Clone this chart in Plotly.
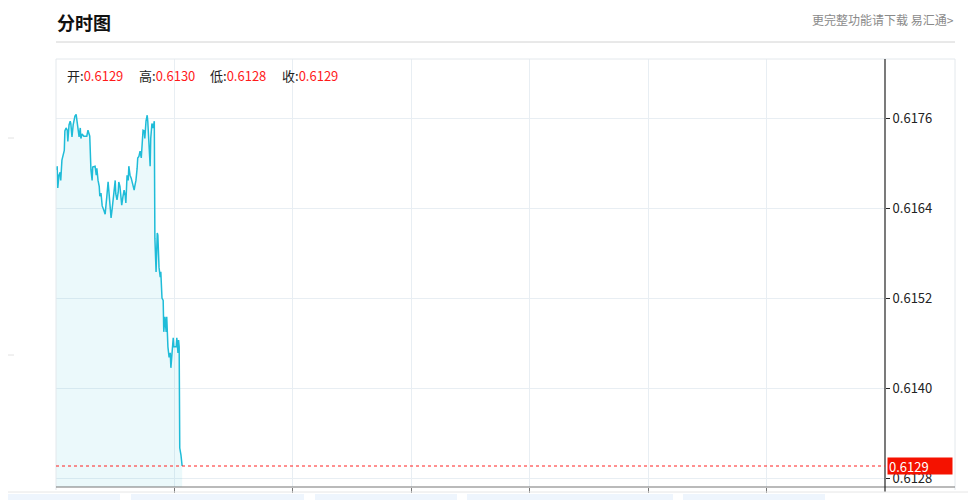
import plotly.graph_objects as go

# intraday minutes (x) and price (y)
minutes = [0, 2, 3, 5, 7, 8, 10, 12, 14, 15, 17, 19, 20, 22, 24, 25, 27, 29, 30, 32,
           34, 35, 37, 39, 41, 42, 44, 46, 47, 51, 52, 54, 56, 57, 59, 61, 62, 64, 66, 68,
           69, 71, 73, 74, 76, 78, 79, 81, 83, 84, 86, 88, 90, 91, 93, 95, 96, 98, 100, 101,
           103, 105, 106, 108, 110, 111, 113, 115, 117, 118, 120, 122, 123, 125, 127, 128, 130, 132, 133, 135,
           137, 138, 140, 142, 144, 145, 147, 149, 150, 152, 154, 155, 157, 159, 160, 162, 164, 166, 167, 169,
           171, 172, 174, 176, 177, 179, 181, 182, 184, 186, 187, 189, 191, 193, 194, 196, 198, 199, 201, 203,
           204, 206, 207, 208, 209, 211, 213]
prices = [0.61691, 0.61696, 0.61667, 0.61684, 0.61688, 0.61677, 0.61704, 0.61711, 0.61717, 0.61743,
          0.61747, 0.61744, 0.61729, 0.61751, 0.61756, 0.61753, 0.61735, 0.61751, 0.61756, 0.61763,
          0.61765, 0.61757, 0.61749, 0.61735, 0.61747, 0.61733, 0.61739, 0.61736, 0.61736, 0.61736,
          0.61736, 0.61744, 0.61736, 0.61736, 0.61691, 0.61677, 0.61695, 0.61696, 0.61696, 0.61684,
          0.61693, 0.61677, 0.61669, 0.61656, 0.61660, 0.61643, 0.61640, 0.61637, 0.61632, 0.61644,
          0.61657, 0.61675, 0.61653, 0.61635, 0.61627, 0.61640, 0.61647, 0.61663, 0.61677, 0.61659,
          0.61651, 0.61661, 0.61675, 0.61669, 0.61651, 0.61644, 0.61655, 0.61664, 0.61656, 0.61647,
          0.61684, 0.61677, 0.61696, 0.61684, 0.61680, 0.61677, 0.61667, 0.61664, 0.61669, 0.61677,
          0.61693, 0.61707, 0.61709, 0.61716, 0.61707, 0.61724, 0.61744, 0.61743, 0.61733, 0.61756,
          0.61764, 0.61756, 0.61724, 0.61696, 0.61733, 0.61753, 0.61747, 0.61756, 0.61600, 0.61555,
          0.61607, 0.61604, 0.61561, 0.61548, 0.61555, 0.61520, 0.61517, 0.61475, 0.61495, 0.61475,
          0.61495, 0.61455, 0.61441, 0.61447, 0.61427, 0.61455, 0.61467, 0.61455, 0.61455, 0.61455,
          0.61467, 0.61447, 0.61464, 0.61455, 0.61320, 0.61311, 0.61296]

y_ticks = [0.6128, 0.6140, 0.6152, 0.6164, 0.6176]
x_grid = [200, 400, 600, 800, 1000, 1200]

ohlc_names = ["开", "高", "低", "收"]
ohlc_values = ["0.6129", "0.6130", "0.6128", "0.6129"]
last_label = "0.6129"

FONT = "Noto Sans CJK SC, Noto Sans, sans-serif"

# page body margin shifts the figure by 8px; coordinates below are screen pixels
OFF = 8
W, H = 976, 500
L, R, T, B = 56, 885, 59, 487  # plot area on screen


def px(x):
    return (x - L) / (R - L)


def py(y):
    return (B - y) / (B - T)


fig = go.Figure()
fig.add_trace(go.Scatter(
    x=minutes, y=prices, mode="lines",
    line=dict(color="#1fbcd8", width=1.5),
    fill="tozeroy", fillcolor="rgba(30,188,216,0.09)",
    hoverinfo="skip", showlegend=False,
))

shapes = []
gray = "#e3e8ec"
# frame
shapes.append(dict(type="line", xref="paper", yref="paper", x0=px(56), x1=px(955), y0=py(59), y1=py(59),
                   line=dict(color=gray, width=1)))
shapes.append(dict(type="line", xref="paper", yref="paper", x0=px(56), x1=px(56), y0=py(59), y1=py(490),
                   line=dict(color=gray, width=1)))
shapes.append(dict(type="line", xref="paper", yref="paper", x0=px(955), x1=px(955), y0=py(59), y1=py(490),
                   line=dict(color=gray, width=1)))
# bottom axis line extended to frame
shapes.append(dict(type="line", xref="paper", yref="paper", x0=px(56), x1=px(955), y0=py(487), y1=py(487),
                   line=dict(color="#777777", width=1.2)))
# right axis line
shapes.append(dict(type="line", xref="paper", yref="paper", x0=1, x1=1, y0=py(59), y1=py(492),
                   line=dict(color="#222222", width=1.2)))
# last price dotted line
shapes.append(dict(type="line", xref="paper", yref="y", x0=0, x1=1, y0=prices[-1], y1=prices[-1],
                   line=dict(color="#ff2020", width=1, dash="dot")))
# header separator
shapes.append(dict(type="line", xref="paper", yref="paper", x0=px(56), x1=px(955), y0=py(42), y1=py(42),
                   line=dict(color="#d2d2d2", width=1)))
# page bits around the widget
shapes.append(dict(type="line", xref="paper", yref="paper", x0=px(0), x1=px(976), y0=py(492), y1=py(492),
                   line=dict(color="#e6e6e6", width=1)))
for yy in (138, 355):
    shapes.append(dict(type="line", xref="paper", yref="paper", x0=px(0), x1=px(14), y0=py(yy), y1=py(yy),
                       line=dict(color="#e2e2e2", width=1)))
for a, b in [(0, 120), (131, 304), (315, 457), (467, 673), (683, 825)]:
    shapes.append(dict(type="rect", xref="paper", yref="paper", x0=px(a), x1=px(b), y0=py(494), y1=py(502),
                       fillcolor="#eef5fd", line=dict(width=0), layer="below"))

annotations = [
    dict(text="<b>分时图</b>", xref="paper", yref="paper", x=px(55), y=py(22), xanchor="left", yanchor="middle",
         showarrow=False, font=dict(family=FONT, size=18, color="#111111")),
    dict(text="更完整功能请下载 易汇通>", xref="paper", yref="paper", x=px(956), y=py(20), xanchor="right",
         yanchor="middle", showarrow=False, font=dict(family=FONT, size=12, color="#8a8a8a")),
    dict(text=last_label, xref="paper", yref="y", x=px(887), y=prices[-1], xanchor="left", yanchor="middle",
         showarrow=False, font=dict(family=FONT, size=13, color="#ffffff"), bgcolor="#f51200",
         width=62, height=14, align="left", borderpad=1),
]
for i, (n, v) in enumerate(zip(ohlc_names, ohlc_values)):
    annotations.append(dict(
        text=f"{n}:<span style='color:#ff1a1a'>{v}</span>", xref="paper", yref="paper",
        x=px(65 + i * 71.5), y=py(75), xanchor="left", yanchor="middle", showarrow=False,
        font=dict(family=FONT, size=13, color="#222222")))

fig.update_layout(
    width=W, height=H,
    margin=dict(l=L - OFF, r=W - (R - OFF), t=T - OFF, b=H - (B - OFF)),
    paper_bgcolor="white", plot_bgcolor="white",
    font=dict(family=FONT, size=12, color="#222222"),
    shapes=shapes, annotations=annotations,
    xaxis=dict(range=[0, 1400], tickvals=x_grid, showticklabels=False, ticks="outside", ticklen=5,
               tickcolor="#777777", showgrid=True, gridcolor="#e8eef3", zeroline=False, showline=False,
               fixedrange=True),
    yaxis=dict(range=[0.61268, 0.61839], side="right", tickvals=y_ticks, tickformat=".4f",
               ticks="outside", ticklen=4, tickcolor="#222222", showgrid=True, gridcolor="#e8eef3",
               zeroline=False, showline=False, tickfont=dict(size=13, color="#222222"), fixedrange=True),
)

fig.write_html("out.html", config={"displayModeBar": False})
